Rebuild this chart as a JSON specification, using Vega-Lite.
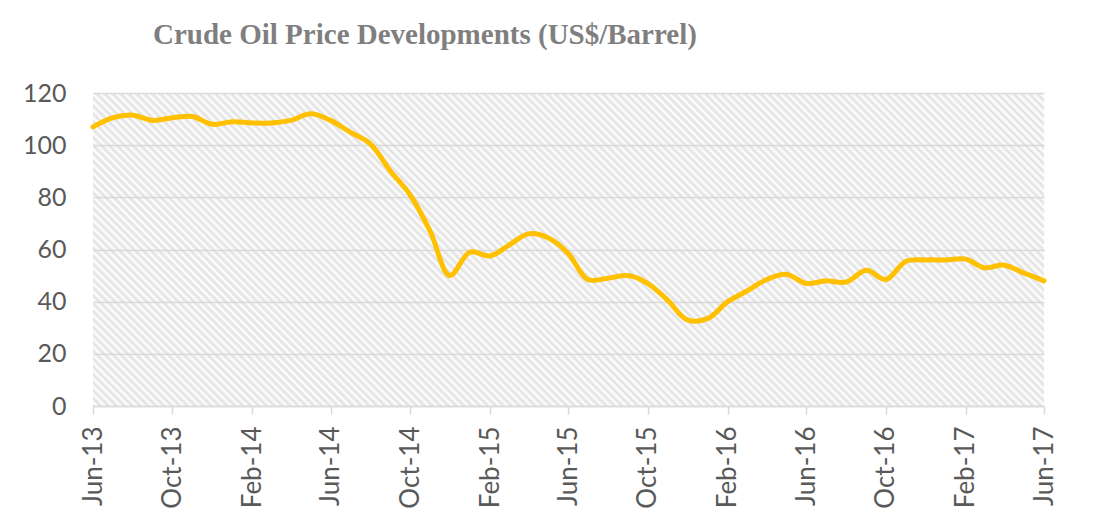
{
  "$schema": "https://vega.github.io/schema/vega-lite/v6.json",
  "width": 951,
  "height": 313,
  "autosize": {"type": "none"},
  "padding": {"left": 93, "top": 93, "right": 56, "bottom": 102},
  "background": "#ffffff",
  "title": {
    "text": "Crude Oil Price Developments (US$/Barrel)",
    "anchor": "start",
    "frame": "group",
    "dx": 60,
    "offset": 31,
    "font": "Liberation Serif",
    "fontSize": 29,
    "fontWeight": "bold",
    "color": "#7f7f7f"
  },
  "data": {
    "values": [
      {"month": "2013-06-01", "price": 107},
      {"month": "2013-07-01", "price": 110.5},
      {"month": "2013-08-01", "price": 111.5},
      {"month": "2013-09-01", "price": 109.5},
      {"month": "2013-10-01", "price": 110.5},
      {"month": "2013-11-01", "price": 111},
      {"month": "2013-12-01", "price": 108},
      {"month": "2014-01-01", "price": 109},
      {"month": "2014-02-01", "price": 108.5},
      {"month": "2014-03-01", "price": 108.5},
      {"month": "2014-04-01", "price": 109.5},
      {"month": "2014-05-01", "price": 112},
      {"month": "2014-06-01", "price": 109.5},
      {"month": "2014-07-01", "price": 105},
      {"month": "2014-08-01", "price": 100.5},
      {"month": "2014-09-01", "price": 90},
      {"month": "2014-10-01", "price": 81},
      {"month": "2014-11-01", "price": 67},
      {"month": "2014-12-01", "price": 50},
      {"month": "2015-01-01", "price": 59},
      {"month": "2015-02-01", "price": 57.5},
      {"month": "2015-03-01", "price": 61.5},
      {"month": "2015-04-01", "price": 66},
      {"month": "2015-05-01", "price": 64.5},
      {"month": "2015-06-01", "price": 58.5},
      {"month": "2015-07-01", "price": 48.5},
      {"month": "2015-08-01", "price": 49},
      {"month": "2015-09-01", "price": 50},
      {"month": "2015-10-01", "price": 47},
      {"month": "2015-11-01", "price": 40.5},
      {"month": "2015-12-01", "price": 33},
      {"month": "2016-01-01", "price": 33.5},
      {"month": "2016-02-01", "price": 40},
      {"month": "2016-03-01", "price": 44},
      {"month": "2016-04-01", "price": 48.5},
      {"month": "2016-05-01", "price": 50.5},
      {"month": "2016-06-01", "price": 47},
      {"month": "2016-07-01", "price": 48},
      {"month": "2016-08-01", "price": 47.5},
      {"month": "2016-09-01", "price": 52},
      {"month": "2016-10-01", "price": 48.5},
      {"month": "2016-11-01", "price": 55.5},
      {"month": "2016-12-01", "price": 56},
      {"month": "2017-01-01", "price": 56},
      {"month": "2017-02-01", "price": 56.3},
      {"month": "2017-03-01", "price": 53},
      {"month": "2017-04-01", "price": 54},
      {"month": "2017-05-01", "price": 51},
      {"month": "2017-06-01", "price": 48}
    ]
  },
  "mark": {
    "type": "line",
    "color": "#ffc000",
    "strokeWidth": 5,
    "interpolate": "catmull-rom",
    "strokeCap": "round",
    "strokeJoin": "round"
  },
  "encoding": {
    "x": {
      "field": "month",
      "type": "temporal",
      "scale": {"type": "utc", "nice": false},
      "axis": {
        "title": null,
        "grid": false,
        "format": "%b-%y",
        "values": [
          {"year": 2013, "month": 6, "date": 1, "utc": true},
          {"year": 2013, "month": 10, "date": 1, "utc": true},
          {"year": 2014, "month": 2, "date": 1, "utc": true},
          {"year": 2014, "month": 6, "date": 1, "utc": true},
          {"year": 2014, "month": 10, "date": 1, "utc": true},
          {"year": 2015, "month": 2, "date": 1, "utc": true},
          {"year": 2015, "month": 6, "date": 1, "utc": true},
          {"year": 2015, "month": 10, "date": 1, "utc": true},
          {"year": 2016, "month": 2, "date": 1, "utc": true},
          {"year": 2016, "month": 6, "date": 1, "utc": true},
          {"year": 2016, "month": 10, "date": 1, "utc": true},
          {"year": 2017, "month": 2, "date": 1, "utc": true},
          {"year": 2017, "month": 6, "date": 1, "utc": true}
        ],
        "domainColor": "#d9d9d9",
        "domainWidth": 1.5,
        "tickColor": "#d9d9d9",
        "tickWidth": 1.5,
        "tickSize": 8,
        "labelAngle": -90,
        "labelFont": "Lato",
        "labelFontSize": 26,
        "labelColor": "#595959",
        "labelPadding": 12,
        "labelOverlap": false,
        "labelFlush": false
      }
    },
    "y": {
      "field": "price",
      "type": "quantitative",
      "scale": {"domain": [0, 120], "nice": false},
      "axis": {
        "title": null,
        "values": [0, 20, 40, 60, 80, 100, 120],
        "domain": false,
        "ticks": false,
        "gridColor": "#d9d9d9",
        "gridWidth": 1.3,
        "labelFont": "Lato",
        "labelFontSize": 25,
        "labelColor": "#595959",
        "labelPadding": 27
      }
    }
  },
  "config": {
    "font": "Lato",
    "view": {
      "stroke": null,
      "fill": {
        "gradient": "linear",
        "x1": 0, "y1": 1, "x2": 1.1995, "y2": 0.6053,
        "stops": [
          {"offset": 0, "color": "#e0e0e0"}, {"offset": 0.003125, "color": "#fff"}, {"offset": 0.00625, "color": "#e0e0e0"}, {"offset": 0.009375, "color": "#fff"}, {"offset": 0.0125, "color": "#e0e0e0"}, {"offset": 0.015625, "color": "#fff"}, {"offset": 0.01875, "color": "#e0e0e0"}, {"offset": 0.021875, "color": "#fff"},
          {"offset": 0.025, "color": "#e0e0e0"}, {"offset": 0.028125, "color": "#fff"}, {"offset": 0.03125, "color": "#e0e0e0"}, {"offset": 0.034375, "color": "#fff"}, {"offset": 0.0375, "color": "#e0e0e0"}, {"offset": 0.040625, "color": "#fff"}, {"offset": 0.04375, "color": "#e0e0e0"}, {"offset": 0.046875, "color": "#fff"},
          {"offset": 0.05, "color": "#e0e0e0"}, {"offset": 0.053125, "color": "#fff"}, {"offset": 0.05625, "color": "#e0e0e0"}, {"offset": 0.059375, "color": "#fff"}, {"offset": 0.0625, "color": "#e0e0e0"}, {"offset": 0.065625, "color": "#fff"}, {"offset": 0.06875, "color": "#e0e0e0"}, {"offset": 0.071875, "color": "#fff"},
          {"offset": 0.075, "color": "#e0e0e0"}, {"offset": 0.078125, "color": "#fff"}, {"offset": 0.08125, "color": "#e0e0e0"}, {"offset": 0.084375, "color": "#fff"}, {"offset": 0.0875, "color": "#e0e0e0"}, {"offset": 0.090625, "color": "#fff"}, {"offset": 0.09375, "color": "#e0e0e0"}, {"offset": 0.096875, "color": "#fff"},
          {"offset": 0.1, "color": "#e0e0e0"}, {"offset": 0.103125, "color": "#fff"}, {"offset": 0.10625, "color": "#e0e0e0"}, {"offset": 0.109375, "color": "#fff"}, {"offset": 0.1125, "color": "#e0e0e0"}, {"offset": 0.115625, "color": "#fff"}, {"offset": 0.11875, "color": "#e0e0e0"}, {"offset": 0.121875, "color": "#fff"},
          {"offset": 0.125, "color": "#e0e0e0"}, {"offset": 0.128125, "color": "#fff"}, {"offset": 0.13125, "color": "#e0e0e0"}, {"offset": 0.134375, "color": "#fff"}, {"offset": 0.1375, "color": "#e0e0e0"}, {"offset": 0.140625, "color": "#fff"}, {"offset": 0.14375, "color": "#e0e0e0"}, {"offset": 0.146875, "color": "#fff"},
          {"offset": 0.15, "color": "#e0e0e0"}, {"offset": 0.153125, "color": "#fff"}, {"offset": 0.15625, "color": "#e0e0e0"}, {"offset": 0.159375, "color": "#fff"}, {"offset": 0.1625, "color": "#e0e0e0"}, {"offset": 0.165625, "color": "#fff"}, {"offset": 0.16875, "color": "#e0e0e0"}, {"offset": 0.171875, "color": "#fff"},
          {"offset": 0.175, "color": "#e0e0e0"}, {"offset": 0.178125, "color": "#fff"}, {"offset": 0.18125, "color": "#e0e0e0"}, {"offset": 0.184375, "color": "#fff"}, {"offset": 0.1875, "color": "#e0e0e0"}, {"offset": 0.190625, "color": "#fff"}, {"offset": 0.19375, "color": "#e0e0e0"}, {"offset": 0.196875, "color": "#fff"},
          {"offset": 0.2, "color": "#e0e0e0"}, {"offset": 0.203125, "color": "#fff"}, {"offset": 0.20625, "color": "#e0e0e0"}, {"offset": 0.209375, "color": "#fff"}, {"offset": 0.2125, "color": "#e0e0e0"}, {"offset": 0.215625, "color": "#fff"}, {"offset": 0.21875, "color": "#e0e0e0"}, {"offset": 0.221875, "color": "#fff"},
          {"offset": 0.225, "color": "#e0e0e0"}, {"offset": 0.228125, "color": "#fff"}, {"offset": 0.23125, "color": "#e0e0e0"}, {"offset": 0.234375, "color": "#fff"}, {"offset": 0.2375, "color": "#e0e0e0"}, {"offset": 0.240625, "color": "#fff"}, {"offset": 0.24375, "color": "#e0e0e0"}, {"offset": 0.246875, "color": "#fff"},
          {"offset": 0.25, "color": "#e0e0e0"}, {"offset": 0.253125, "color": "#fff"}, {"offset": 0.25625, "color": "#e0e0e0"}, {"offset": 0.259375, "color": "#fff"}, {"offset": 0.2625, "color": "#e0e0e0"}, {"offset": 0.265625, "color": "#fff"}, {"offset": 0.26875, "color": "#e0e0e0"}, {"offset": 0.271875, "color": "#fff"},
          {"offset": 0.275, "color": "#e0e0e0"}, {"offset": 0.278125, "color": "#fff"}, {"offset": 0.28125, "color": "#e0e0e0"}, {"offset": 0.284375, "color": "#fff"}, {"offset": 0.2875, "color": "#e0e0e0"}, {"offset": 0.290625, "color": "#fff"}, {"offset": 0.29375, "color": "#e0e0e0"}, {"offset": 0.296875, "color": "#fff"},
          {"offset": 0.3, "color": "#e0e0e0"}, {"offset": 0.303125, "color": "#fff"}, {"offset": 0.30625, "color": "#e0e0e0"}, {"offset": 0.309375, "color": "#fff"}, {"offset": 0.3125, "color": "#e0e0e0"}, {"offset": 0.315625, "color": "#fff"}, {"offset": 0.31875, "color": "#e0e0e0"}, {"offset": 0.321875, "color": "#fff"},
          {"offset": 0.325, "color": "#e0e0e0"}, {"offset": 0.328125, "color": "#fff"}, {"offset": 0.33125, "color": "#e0e0e0"}, {"offset": 0.334375, "color": "#fff"}, {"offset": 0.3375, "color": "#e0e0e0"}, {"offset": 0.340625, "color": "#fff"}, {"offset": 0.34375, "color": "#e0e0e0"}, {"offset": 0.346875, "color": "#fff"},
          {"offset": 0.35, "color": "#e0e0e0"}, {"offset": 0.353125, "color": "#fff"}, {"offset": 0.35625, "color": "#e0e0e0"}, {"offset": 0.359375, "color": "#fff"}, {"offset": 0.3625, "color": "#e0e0e0"}, {"offset": 0.365625, "color": "#fff"}, {"offset": 0.36875, "color": "#e0e0e0"}, {"offset": 0.371875, "color": "#fff"},
          {"offset": 0.375, "color": "#e0e0e0"}, {"offset": 0.378125, "color": "#fff"}, {"offset": 0.38125, "color": "#e0e0e0"}, {"offset": 0.384375, "color": "#fff"}, {"offset": 0.3875, "color": "#e0e0e0"}, {"offset": 0.390625, "color": "#fff"}, {"offset": 0.39375, "color": "#e0e0e0"}, {"offset": 0.396875, "color": "#fff"},
          {"offset": 0.4, "color": "#e0e0e0"}, {"offset": 0.403125, "color": "#fff"}, {"offset": 0.40625, "color": "#e0e0e0"}, {"offset": 0.409375, "color": "#fff"}, {"offset": 0.4125, "color": "#e0e0e0"}, {"offset": 0.415625, "color": "#fff"}, {"offset": 0.41875, "color": "#e0e0e0"}, {"offset": 0.421875, "color": "#fff"},
          {"offset": 0.425, "color": "#e0e0e0"}, {"offset": 0.428125, "color": "#fff"}, {"offset": 0.43125, "color": "#e0e0e0"}, {"offset": 0.434375, "color": "#fff"}, {"offset": 0.4375, "color": "#e0e0e0"}, {"offset": 0.440625, "color": "#fff"}, {"offset": 0.44375, "color": "#e0e0e0"}, {"offset": 0.446875, "color": "#fff"},
          {"offset": 0.45, "color": "#e0e0e0"}, {"offset": 0.453125, "color": "#fff"}, {"offset": 0.45625, "color": "#e0e0e0"}, {"offset": 0.459375, "color": "#fff"}, {"offset": 0.4625, "color": "#e0e0e0"}, {"offset": 0.465625, "color": "#fff"}, {"offset": 0.46875, "color": "#e0e0e0"}, {"offset": 0.471875, "color": "#fff"},
          {"offset": 0.475, "color": "#e0e0e0"}, {"offset": 0.478125, "color": "#fff"}, {"offset": 0.48125, "color": "#e0e0e0"}, {"offset": 0.484375, "color": "#fff"}, {"offset": 0.4875, "color": "#e0e0e0"}, {"offset": 0.490625, "color": "#fff"}, {"offset": 0.49375, "color": "#e0e0e0"}, {"offset": 0.496875, "color": "#fff"},
          {"offset": 0.5, "color": "#e0e0e0"}, {"offset": 0.503125, "color": "#fff"}, {"offset": 0.50625, "color": "#e0e0e0"}, {"offset": 0.509375, "color": "#fff"}, {"offset": 0.5125, "color": "#e0e0e0"}, {"offset": 0.515625, "color": "#fff"}, {"offset": 0.51875, "color": "#e0e0e0"}, {"offset": 0.521875, "color": "#fff"},
          {"offset": 0.525, "color": "#e0e0e0"}, {"offset": 0.528125, "color": "#fff"}, {"offset": 0.53125, "color": "#e0e0e0"}, {"offset": 0.534375, "color": "#fff"}, {"offset": 0.5375, "color": "#e0e0e0"}, {"offset": 0.540625, "color": "#fff"}, {"offset": 0.54375, "color": "#e0e0e0"}, {"offset": 0.546875, "color": "#fff"},
          {"offset": 0.55, "color": "#e0e0e0"}, {"offset": 0.553125, "color": "#fff"}, {"offset": 0.55625, "color": "#e0e0e0"}, {"offset": 0.559375, "color": "#fff"}, {"offset": 0.5625, "color": "#e0e0e0"}, {"offset": 0.565625, "color": "#fff"}, {"offset": 0.56875, "color": "#e0e0e0"}, {"offset": 0.571875, "color": "#fff"},
          {"offset": 0.575, "color": "#e0e0e0"}, {"offset": 0.578125, "color": "#fff"}, {"offset": 0.58125, "color": "#e0e0e0"}, {"offset": 0.584375, "color": "#fff"}, {"offset": 0.5875, "color": "#e0e0e0"}, {"offset": 0.590625, "color": "#fff"}, {"offset": 0.59375, "color": "#e0e0e0"}, {"offset": 0.596875, "color": "#fff"},
          {"offset": 0.6, "color": "#e0e0e0"}, {"offset": 0.603125, "color": "#fff"}, {"offset": 0.60625, "color": "#e0e0e0"}, {"offset": 0.609375, "color": "#fff"}, {"offset": 0.6125, "color": "#e0e0e0"}, {"offset": 0.615625, "color": "#fff"}, {"offset": 0.61875, "color": "#e0e0e0"}, {"offset": 0.621875, "color": "#fff"},
          {"offset": 0.625, "color": "#e0e0e0"}, {"offset": 0.628125, "color": "#fff"}, {"offset": 0.63125, "color": "#e0e0e0"}, {"offset": 0.634375, "color": "#fff"}, {"offset": 0.6375, "color": "#e0e0e0"}, {"offset": 0.640625, "color": "#fff"}, {"offset": 0.64375, "color": "#e0e0e0"}, {"offset": 0.646875, "color": "#fff"},
          {"offset": 0.65, "color": "#e0e0e0"}, {"offset": 0.653125, "color": "#fff"}, {"offset": 0.65625, "color": "#e0e0e0"}, {"offset": 0.659375, "color": "#fff"}, {"offset": 0.6625, "color": "#e0e0e0"}, {"offset": 0.665625, "color": "#fff"}, {"offset": 0.66875, "color": "#e0e0e0"}, {"offset": 0.671875, "color": "#fff"},
          {"offset": 0.675, "color": "#e0e0e0"}, {"offset": 0.678125, "color": "#fff"}, {"offset": 0.68125, "color": "#e0e0e0"}, {"offset": 0.684375, "color": "#fff"}, {"offset": 0.6875, "color": "#e0e0e0"}, {"offset": 0.690625, "color": "#fff"}, {"offset": 0.69375, "color": "#e0e0e0"}, {"offset": 0.696875, "color": "#fff"},
          {"offset": 0.7, "color": "#e0e0e0"}, {"offset": 0.703125, "color": "#fff"}, {"offset": 0.70625, "color": "#e0e0e0"}, {"offset": 0.709375, "color": "#fff"}, {"offset": 0.7125, "color": "#e0e0e0"}, {"offset": 0.715625, "color": "#fff"}, {"offset": 0.71875, "color": "#e0e0e0"}, {"offset": 0.721875, "color": "#fff"},
          {"offset": 0.725, "color": "#e0e0e0"}, {"offset": 0.728125, "color": "#fff"}, {"offset": 0.73125, "color": "#e0e0e0"}, {"offset": 0.734375, "color": "#fff"}, {"offset": 0.7375, "color": "#e0e0e0"}, {"offset": 0.740625, "color": "#fff"}, {"offset": 0.74375, "color": "#e0e0e0"}, {"offset": 0.746875, "color": "#fff"},
          {"offset": 0.75, "color": "#e0e0e0"}, {"offset": 0.753125, "color": "#fff"}, {"offset": 0.75625, "color": "#e0e0e0"}, {"offset": 0.759375, "color": "#fff"}, {"offset": 0.7625, "color": "#e0e0e0"}, {"offset": 0.765625, "color": "#fff"}, {"offset": 0.76875, "color": "#e0e0e0"}, {"offset": 0.771875, "color": "#fff"},
          {"offset": 0.775, "color": "#e0e0e0"}, {"offset": 0.778125, "color": "#fff"}, {"offset": 0.78125, "color": "#e0e0e0"}, {"offset": 0.784375, "color": "#fff"}, {"offset": 0.7875, "color": "#e0e0e0"}, {"offset": 0.790625, "color": "#fff"}, {"offset": 0.79375, "color": "#e0e0e0"}, {"offset": 0.796875, "color": "#fff"},
          {"offset": 0.8, "color": "#e0e0e0"}, {"offset": 0.803125, "color": "#fff"}, {"offset": 0.80625, "color": "#e0e0e0"}, {"offset": 0.809375, "color": "#fff"}, {"offset": 0.8125, "color": "#e0e0e0"}, {"offset": 0.815625, "color": "#fff"}, {"offset": 0.81875, "color": "#e0e0e0"}, {"offset": 0.821875, "color": "#fff"},
          {"offset": 0.825, "color": "#e0e0e0"}, {"offset": 0.828125, "color": "#fff"}, {"offset": 0.83125, "color": "#e0e0e0"}, {"offset": 0.834375, "color": "#fff"}, {"offset": 0.8375, "color": "#e0e0e0"}, {"offset": 0.840625, "color": "#fff"}, {"offset": 0.84375, "color": "#e0e0e0"}, {"offset": 0.846875, "color": "#fff"},
          {"offset": 0.85, "color": "#e0e0e0"}, {"offset": 0.853125, "color": "#fff"}, {"offset": 0.85625, "color": "#e0e0e0"}, {"offset": 0.859375, "color": "#fff"}, {"offset": 0.8625, "color": "#e0e0e0"}, {"offset": 0.865625, "color": "#fff"}, {"offset": 0.86875, "color": "#e0e0e0"}, {"offset": 0.871875, "color": "#fff"},
          {"offset": 0.875, "color": "#e0e0e0"}, {"offset": 0.878125, "color": "#fff"}, {"offset": 0.88125, "color": "#e0e0e0"}, {"offset": 0.884375, "color": "#fff"}, {"offset": 0.8875, "color": "#e0e0e0"}, {"offset": 0.890625, "color": "#fff"}, {"offset": 0.89375, "color": "#e0e0e0"}, {"offset": 0.896875, "color": "#fff"},
          {"offset": 0.9, "color": "#e0e0e0"}, {"offset": 0.903125, "color": "#fff"}, {"offset": 0.90625, "color": "#e0e0e0"}, {"offset": 0.909375, "color": "#fff"}, {"offset": 0.9125, "color": "#e0e0e0"}, {"offset": 0.915625, "color": "#fff"}, {"offset": 0.91875, "color": "#e0e0e0"}, {"offset": 0.921875, "color": "#fff"},
          {"offset": 0.925, "color": "#e0e0e0"}, {"offset": 0.928125, "color": "#fff"}, {"offset": 0.93125, "color": "#e0e0e0"}, {"offset": 0.934375, "color": "#fff"}, {"offset": 0.9375, "color": "#e0e0e0"}, {"offset": 0.940625, "color": "#fff"}, {"offset": 0.94375, "color": "#e0e0e0"}, {"offset": 0.946875, "color": "#fff"},
          {"offset": 0.95, "color": "#e0e0e0"}, {"offset": 0.953125, "color": "#fff"}, {"offset": 0.95625, "color": "#e0e0e0"}, {"offset": 0.959375, "color": "#fff"}, {"offset": 0.9625, "color": "#e0e0e0"}, {"offset": 0.965625, "color": "#fff"}, {"offset": 0.96875, "color": "#e0e0e0"}, {"offset": 0.971875, "color": "#fff"},
          {"offset": 0.975, "color": "#e0e0e0"}, {"offset": 0.978125, "color": "#fff"}, {"offset": 0.98125, "color": "#e0e0e0"}, {"offset": 0.984375, "color": "#fff"}, {"offset": 0.9875, "color": "#e0e0e0"}, {"offset": 0.990625, "color": "#fff"}, {"offset": 0.99375, "color": "#e0e0e0"}, {"offset": 0.996875, "color": "#fff"},
          {"offset": 1, "color": "#e0e0e0"}
        ]
      }
    }
  }
}
